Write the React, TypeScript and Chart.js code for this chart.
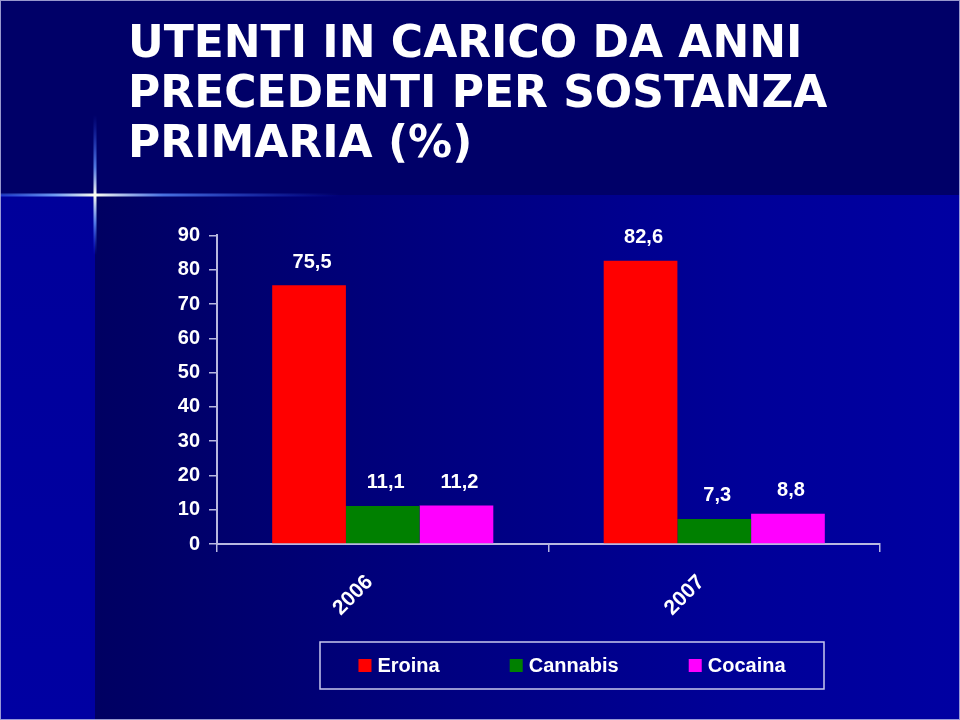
import React, { useEffect, useRef } from 'react';
import { Chart, registerables } from 'chart.js';

Chart.register(...registerables);

const titleLines = ['UTENTI IN CARICO DA ANNI', 'PRECEDENTI PER SOSTANZA', 'PRIMARIA (%)'];
const categories = ['2006', '2007'];
const seriesNames = ['Eroina', 'Cannabis', 'Cocaina'];
const eroina = [75.5, 82.6];
const cannabis = [11.1, 7.3];
const cocaina = [11.2, 8.8];
const seriesColors = ['#ff0000', '#008000', '#ff00ff'];
const yMin = 0;
const yMax = 90;
const yStep = 10;

const AXIS_COLOR = '#b8b8e0';

const bgPlugin = {
  id: 'bgPlugin',
  beforeDraw(chart: any) {
    const { ctx, width, height } = chart;
    ctx.save();
    // header band
    ctx.fillStyle = '#000068';
    ctx.fillRect(0, 0, width, 195);
    // left strip
    let g = ctx.createLinearGradient(0, 195, 0, height);
    g.addColorStop(0, '#00009a');
    g.addColorStop(1, '#0000a2');
    ctx.fillStyle = g;
    ctx.fillRect(0, 195, 95, height - 195);
    // body
    g = ctx.createLinearGradient(95, 0, width, 0);
    g.addColorStop(0, '#000062');
    g.addColorStop(0.35, '#00007c');
    g.addColorStop(0.75, '#000098');
    g.addColorStop(1, '#0000a2');
    ctx.fillStyle = g;
    ctx.fillRect(95, 195, width - 95, height - 195);
    // flare horizontal
    const cx = 95;
    const cy = 195;
    g = ctx.createLinearGradient(0, 0, 340, 0);
    g.addColorStop(0, 'rgba(60,110,255,0.5)');
    g.addColorStop(cx / 340 - 0.12, 'rgba(120,170,255,0.9)');
    g.addColorStop(cx / 340, 'rgba(255,255,240,1)');
    g.addColorStop(cx / 340 + 0.2, 'rgba(90,140,255,0.8)');
    g.addColorStop(1, 'rgba(40,80,255,0)');
    ctx.fillStyle = g;
    ctx.fillRect(0, cy - 1.5, 340, 3);
    // flare vertical
    g = ctx.createLinearGradient(0, 115, 0, 255);
    g.addColorStop(0, 'rgba(40,80,255,0)');
    g.addColorStop((cy - 115) / 140 - 0.2, 'rgba(100,150,255,0.8)');
    g.addColorStop((cy - 115) / 140, 'rgba(255,255,240,1)');
    g.addColorStop((cy - 115) / 140 + 0.2, 'rgba(100,150,255,0.8)');
    g.addColorStop(1, 'rgba(40,80,255,0)');
    ctx.fillStyle = g;
    ctx.fillRect(cx - 1.5, 115, 3, 140);
    ctx.restore();
  },
  afterDraw(chart: any) {
    const { ctx, width, height } = chart;
    ctx.save();
    // data labels
    ctx.fillStyle = '#ffffff';
    ctx.font = 'bold 20px "Liberation Sans", Arial, sans-serif';
    ctx.textAlign = 'center';
    ctx.textBaseline = 'bottom';
    chart.data.datasets.forEach((ds: any, di: number) => {
      const meta = chart.getDatasetMeta(di);
      meta.data.forEach((bar: any, i: number) => {
        const v = ds.data[i];
        const txt = String(v).replace('.', ',');
        ctx.fillText(txt, bar.x + 3, bar.y - 13);
      });
    });
    // legend box
    const lx = 320, ly = 642, lw = 504, lh = 47;
    ctx.strokeStyle = '#c8c8ee';
    ctx.lineWidth = 1.5;
    ctx.strokeRect(lx, ly, lw, lh);
    ctx.font = 'bold 20px "Liberation Sans", Arial, sans-serif';
    ctx.textAlign = 'left';
    ctx.textBaseline = 'middle';
    const box = 13, gap = 6, itemGap = 70;
    const widths = seriesNames.map((n) => box + gap + ctx.measureText(n).width);
    const total = widths.reduce((a, b) => a + b, 0) + itemGap * (seriesNames.length - 1);
    let x = lx + lw / 2 - total / 2;
    const cyL = ly + lh / 2;
    seriesNames.forEach((n, i) => {
      ctx.fillStyle = seriesColors[i];
      ctx.fillRect(x, cyL - box / 2, box, box);
      ctx.fillStyle = '#ffffff';
      ctx.fillText(n, x + box + gap, cyL + 1);
      x += widths[i] + itemGap;
    });
    // frame border
    ctx.strokeStyle = 'rgba(190,190,230,0.8)';
    ctx.lineWidth = 2;
    ctx.strokeRect(0, 0, width, height);
    ctx.restore();
  },
};

export default function App() {
  const ref = useRef<HTMLCanvasElement | null>(null);
  useEffect(() => {
    if (!ref.current) return;
    const chart = new Chart(ref.current, {
      type: 'bar',
      data: {
        labels: categories,
        datasets: [
          { label: seriesNames[0], data: eroina, backgroundColor: seriesColors[0] },
          { label: seriesNames[1], data: cannabis, backgroundColor: seriesColors[1] },
          { label: seriesNames[2], data: cocaina, backgroundColor: seriesColors[2] },
        ],
      },
      options: {
        responsive: false,
        animation: false,
        datasets: { bar: { categoryPercentage: 0.667, barPercentage: 1.0, borderWidth: 0 } },
        layout: { padding: { left: 128, right: 80, top: 0, bottom: 76 } },
        plugins: {
          legend: { display: false },
          tooltip: { enabled: false },
          title: {
            display: true,
            text: titleLines,
            align: 'start',
            color: '#ffffff',
            font: { family: '"DejaVu Sans", Verdana, sans-serif', size: 44, weight: 'bold', lineHeight: 1.14 },
            padding: { top: 20, bottom: 65 },
          },
        },
        scales: {
          x: {
            offset: true,
            grid: {
              offset: true,
              drawOnChartArea: false,
              drawTicks: true,
              tickLength: 8,
              color: AXIS_COLOR,
              lineWidth: 1.5,
            },
            border: { display: true, color: AXIS_COLOR, width: 2 },
            ticks: {
              color: '#ffffff',
              font: { family: '"Liberation Sans", Arial, sans-serif', size: 21, weight: 'bold' },
              minRotation: 45,
              maxRotation: 45,
              padding: 18,
              labelOffset: -13,
            },
            afterFit(scale: any) {
              scale.height = 100;
            },
          },
          y: {
            min: yMin,
            max: yMax,
            grid: {
              drawOnChartArea: false,
              drawTicks: true,
              tickLength: 8,
              color: AXIS_COLOR,
              lineWidth: 1.5,
            },
            border: { display: true, color: AXIS_COLOR, width: 2 },
            ticks: {
              stepSize: yStep,
              color: '#ffffff',
              padding: 9,
              font: { family: '"Liberation Sans", Arial, sans-serif', size: 20, weight: 'bold' },
            },
            afterFit(scale: any) {
              scale.width = 89;
            },
          },
        },
      },
      plugins: [bgPlugin],
    } as any);
    return () => chart.destroy();
  }, []);
  return (
    <div style={{ position: 'fixed', left: 0, top: 0, width: 960, height: 720 }}>
      <canvas ref={ref} width={960} height={720} style={{ display: 'block' }} />
    </div>
  );
}
